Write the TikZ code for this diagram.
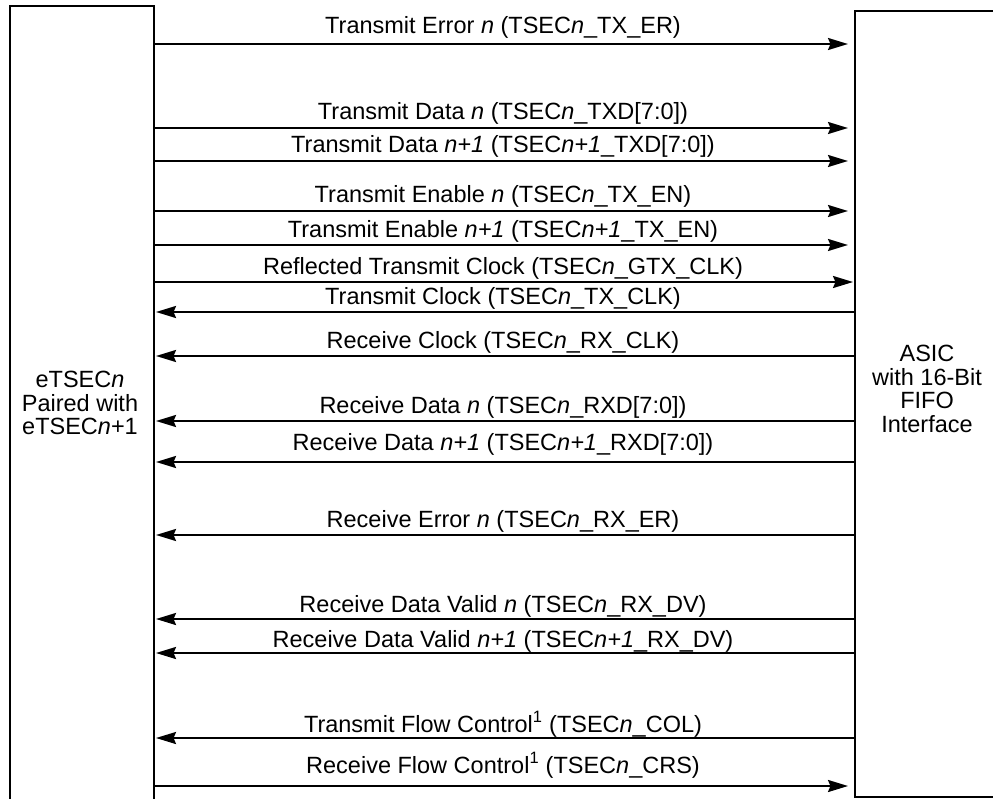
\documentclass[tikz,border=0pt]{standalone}
\usepackage{fontspec}
\setmainfont{Liberation Sans}
\usetikzlibrary{arrows.meta}
\begin{document}
\begin{tikzpicture}[x=1pt,y=-1pt,
  wire/.style={line width=2.2pt, -{Stealth[length=20pt,width=12pt,inset=2.5pt]}},
  sig/.style={anchor=base, inner sep=0pt, font=\fontsize{23.5}{23}\selectfont},
  boxtext/.style={align=center, inner sep=0pt, font=\fontsize{23.5}{23.5}\selectfont},
  blk/.style={draw, line width=2.2pt, inner sep=0pt, outer sep=0pt}]
\useasboundingbox (0,0) rectangle (993,798);
\clip (0,0) rectangle (993,798);
% blocks
\node[blk, minimum width=144pt, minimum height=824pt] (L) at (82,418) {};
\node[blk, minimum width=155pt, minimum height=786pt] (R) at (932.5,404) {};
\node[boxtext] (Ltxt) at (80,403) {eTSEC\textit{n}\\Paired with\\eTSEC\textit{n}+1};
\node[boxtext] (Rtxt) at (927,389) {ASIC\\with 16-Bit\\FIFO\\Interface};
% rightward signals
\draw[wire, shorten >=7pt] (L.east |- 0,44) -- (R.west |- 0,44);
\draw[wire, shorten >=7pt] (L.east |- 0,128) -- (R.west |- 0,128);
\draw[wire, shorten >=7pt] (L.east |- 0,161) -- (R.west |- 0,161);
\draw[wire, shorten >=7pt] (L.east |- 0,211) -- (R.west |- 0,211);
\draw[wire, shorten >=7pt] (L.east |- 0,245) -- (R.west |- 0,245);
\draw[wire, shorten >=2pt] (L.east |- 0,282) -- (R.west |- 0,282);
% leftward signals
\draw[wire, shorten >=2pt] (R.west |- 0,312) -- (L.east |- 0,312);
\draw[wire, shorten >=2pt] (R.west |- 0,356) -- (L.east |- 0,356);
\draw[wire, shorten >=2pt] (R.west |- 0,421) -- (L.east |- 0,421);
\draw[wire, shorten >=2pt] (R.west |- 0,462) -- (L.east |- 0,462);
\draw[wire, shorten >=2pt] (R.west |- 0,535) -- (L.east |- 0,535);
\draw[wire, shorten >=2pt] (R.west |- 0,619) -- (L.east |- 0,619);
\draw[wire, shorten >=2pt] (R.west |- 0,653) -- (L.east |- 0,653);
\draw[wire, shorten >=2pt] (R.west |- 0,738) -- (L.east |- 0,738);
% last rightward
\draw[wire, shorten >=7pt] (L.east |- 0,786) -- (R.west |- 0,786);
% labels
\node[sig] (t1) at (503,33) {Transmit Error \textit{n} (TSEC\textit{n}\_TX\_ER)};
\node[sig] (t2) at (503,119) {Transmit Data \textit{n} (TSEC\textit{n}\_TXD[7:0])};
\node[sig] (t3) at (503,152) {Transmit Data \textit{n+1} (TSEC\textit{n+1}\_TXD[7:0])};
\node[sig] (t4) at (503,202) {Transmit Enable \textit{n} (TSEC\textit{n}\_TX\_EN)};
\node[sig] (t5) at (503,237) {Transmit Enable \textit{n+1} (TSEC\textit{n+1}\_TX\_EN)};
\node[sig] (t6) at (503,274) {Reflected Transmit Clock (TSEC\textit{n}\_GTX\_CLK)};
\node[sig] (t7) at (503,304) {Transmit Clock (TSEC\textit{n}\_TX\_CLK)};
\node[sig] (t8) at (503,348) {Receive Clock (TSEC\textit{n}\_RX\_CLK)};
\node[sig] (t9) at (503,413) {Receive Data \textit{n} (TSEC\textit{n}\_RXD[7:0])};
\node[sig] (t10) at (503,450) {Receive Data \textit{n+1} (TSEC\textit{n+1}\_RXD[7:0])};
\node[sig] (t11) at (503,527) {Receive Error \textit{n} (TSEC\textit{n}\_RX\_ER)};
\node[sig] (t12) at (503,612) {Receive Data Valid \textit{n} (TSEC\textit{n}\_RX\_DV)};
\node[sig] (t13) at (503,647) {Receive Data Valid \textit{n+1} (TSEC\textit{n+1}\_RX\_DV)};
\node[sig] (t14) at (503,732) {Transmit Flow Control\textsuperscript{1} (TSEC\textit{n}\_COL)};
\node[sig] (t15) at (503,773) {Receive Flow Control\textsuperscript{1} (TSEC\textit{n}\_CRS)};
\end{tikzpicture}
\end{document}
